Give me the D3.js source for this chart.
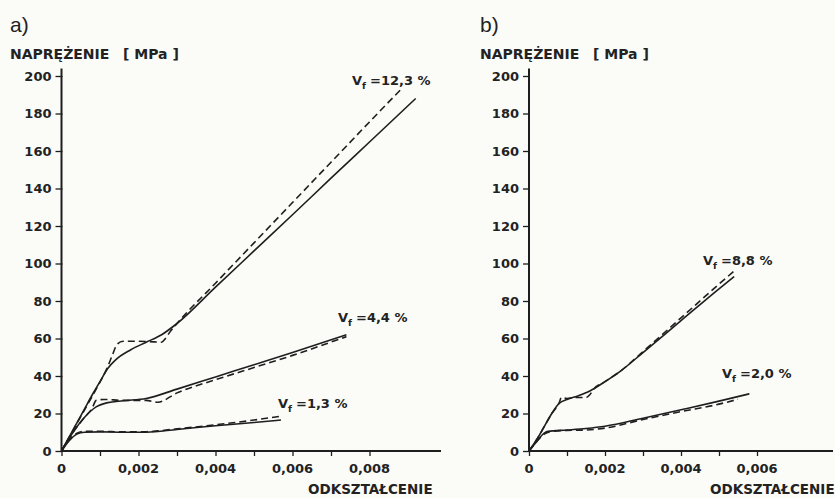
<!DOCTYPE html>
<html>
<head>
<meta charset="utf-8">
<script src="https://cdn.jsdelivr.net/npm/d3@7"></script>
<style>
html,body{margin:0;padding:0;background:#fbfbf8;}
svg{display:block;}
text{font-family:"DejaVu Sans",sans-serif;fill:#222;}
</style>
</head>
<body>
<svg id="chart" width="835" height="498"></svg>
<script>
// ---------- DATA ----------
const yTicks = [0, 20, 40, 60, 80, 100, 120, 140, 160, 180, 200];
const xTicksA = [0, 0.001, 0.002, 0.003, 0.004, 0.005, 0.006, 0.007, 0.008];
const xTicksB = [0, 0.001, 0.002, 0.003, 0.004, 0.005, 0.006];
const xLabelValsA = [0, 0.002, 0.004, 0.006, 0.008];
const xLabelValsB = [0, 0.002, 0.004, 0.006];

// Panel a) — Vf = 12,3 %
const a123SolidStrain = [0, 0.0002, 0.0004, 0.0006, 0.0008, 0.001, 0.0012, 0.0014, 0.0018, 0.0022, 0.0026, 0.003, 0.004, 0.005, 0.006, 0.007, 0.008, 0.0092];
const a123SolidStress = [0, 7.5, 15, 22.5, 30, 37, 44, 48.5, 54, 58, 62, 68, 87.4, 106.7, 126, 145.5, 164.8, 188];
const a123DashStrain = [0, 0.0003, 0.0006, 0.0009, 0.0012, 0.0013, 0.00145, 0.0016, 0.002, 0.0024, 0.0026, 0.0027, 0.0028, 0.003, 0.004, 0.005, 0.006, 0.007, 0.008, 0.0088];
const a123DashStress = [0, 11, 22, 33, 45, 50, 57, 58.5, 58.5, 58.2, 58, 60, 63, 68, 89.5, 111, 132.5, 154, 175.5, 192.5];
// Panel a) — Vf = 4,4 %
const a44SolidStrain = [0, 0.0003, 0.0006, 0.0009, 0.0012, 0.0016, 0.0022, 0.003, 0.004, 0.005, 0.006, 0.0074];
const a44SolidStress = [0, 10, 18, 23.5, 25.8, 26.8, 28, 33, 39.5, 46, 52.5, 62];
const a44DashStrain = [0, 0.0003, 0.0006, 0.0008, 0.0009, 0.0011, 0.0016, 0.0022, 0.0025, 0.003, 0.004, 0.005, 0.006, 0.0074];
const a44DashStress = [0, 10, 18, 23, 27, 27.5, 27, 27, 26, 31, 38, 44.5, 51, 61];
// Panel a) — Vf = 1,3 %
const a13SolidStrain = [0, 0.0002, 0.0004, 0.0006, 0.001, 0.0016, 0.0022, 0.003, 0.004, 0.005, 0.0057];
const a13SolidStress = [0, 5.5, 9, 10, 10.2, 10, 10, 11.5, 13.5, 15.2, 16.5];
const a13DashStrain = [0, 0.0002, 0.0004, 0.0006, 0.001, 0.0016, 0.0022, 0.003, 0.004, 0.005, 0.0057];
const a13DashStress = [0, 6, 9.5, 10.5, 10.5, 10.2, 10.3, 11.8, 14, 16.5, 18.6];

// Panel b) — Vf = 8,8 %
const b88SolidStrain = [0, 0.0002, 0.0004, 0.0006, 0.0008, 0.001, 0.0013, 0.0016, 0.002, 0.0024, 0.003, 0.004, 0.005, 0.0054];
const b88SolidStress = [0, 6, 13, 20, 25.5, 27.5, 29.5, 32, 37, 42.5, 52.5, 69.5, 86.5, 93];
const b88DashStrain = [0, 0.0002, 0.0004, 0.0006, 0.0008, 0.00085, 0.001, 0.0012, 0.0015, 0.0016, 0.0017, 0.002, 0.0024, 0.003, 0.004, 0.005, 0.0054];
const b88DashStress = [0, 6, 13, 20, 26, 28.5, 28, 28.5, 28.5, 30, 33, 37, 42.5, 53, 71, 89, 96];
// Panel b) — Vf = 2,0 %
const b20SolidStrain = [0, 0.0002, 0.0004, 0.0005, 0.001, 0.0015, 0.002, 0.003, 0.004, 0.005, 0.0058];
const b20SolidStress = [0, 5, 9.5, 10.5, 11.2, 12, 13.2, 17.5, 22, 26.6, 30.5];
const b20DashStrain = [0, 0.0002, 0.0004, 0.0006, 0.001, 0.0015, 0.002, 0.003, 0.004, 0.005, 0.0055];
const b20DashStress = [0, 5, 9, 10.5, 11, 11.2, 12.2, 16.8, 21, 25, 27.6];

// Labels
const panelLetters = ["a)", "b)"];
const yTitle = "NAPRĘŻENIE";
const yUnit = "[ MPa ]";
const xTitle = "ODKSZTAŁCENIE";
const vfLabelsA = ["=12,3 %", "=4,4 %", "=1,3 %"];
const vfLabelsB = ["=8,8 %", "=2,0 %"];

// ---------- DRAW ----------
const svg = d3.select("#chart");
const ink = "#1e1e1e";
const fmt = v => v === 0 ? "0" : d3.format(".3f")(v).replace(".", ",");
const zip = (xs, ys) => xs.map((x, i) => [x, ys[i]]);

function panel(cfg) {
  const x = d3.scaleLinear().domain([0, cfg.xMax]).range([cfg.x0, cfg.x1]);
  const y = d3.scaleLinear().domain([0, 204]).range([451, 68.5]);
  const g = svg.append("g");

  // y axis
  const yAxis = d3.axisLeft(y).tickValues(yTicks).tickSize(6).tickPadding(4).tickFormat(d3.format("d"));
  const gy = g.append("g").attr("transform", `translate(${cfg.x0},0)`).call(yAxis);
  gy.select(".domain").remove();
  gy.selectAll(".tick line").attr("stroke", ink).attr("stroke-width", 1.3).attr("x2", -6).attr("x1", 1);
  gy.selectAll(".tick text").style("font-size", "13px").style("font-weight", "bold")
    .style("font-family", '"DejaVu Sans",sans-serif').attr("fill", "#222");
  g.append("line").attr("x1", cfg.x0).attr("x2", cfg.x0).attr("y1", y(0)).attr("y2", y(204))
    .attr("stroke", ink).attr("stroke-width", 2);

  // x axis
  const xAxis = d3.axisBottom(x).tickValues(cfg.xTicks).tickSize(5).tickFormat("");
  const gx = g.append("g").attr("transform", `translate(0,${y(0)})`).call(xAxis);
  gx.select(".domain").remove();
  gx.selectAll(".tick line").attr("stroke", ink).attr("stroke-width", 1.3);
  g.append("line").attr("x1", cfg.x0).attr("x2", cfg.x1).attr("y1", y(0)).attr("y2", y(0))
    .attr("stroke", ink).attr("stroke-width", 2);
  g.selectAll("text.xl").data(cfg.xLabels).enter().append("text").attr("class", "xl")
    .attr("x", d => x(d)).attr("y", 473).attr("text-anchor", "middle")
    .style("font-size", "13px").style("font-weight", "bold").text(fmt);

  // titles
  g.append("text").attr("x", cfg.tx).attr("y", 32).style("font-family", '"Liberation Sans",Arial,sans-serif')
    .style("font-size", "21px").attr("fill", "#333").text(cfg.letter);
  g.append("text").attr("x", cfg.tx).attr("y", 59).style("font-size", "14px").style("font-weight", "bold").text(yTitle);
  g.append("text").attr("x", cfg.tx + 113).attr("y", 59).style("font-size", "14px").style("font-weight", "bold").text(yUnit);
  g.append("text").attr("x", cfg.xtx).attr("y", 494).style("font-size", "13.5px").style("font-weight", "bold").text(xTitle);

  // curves
  const line = d3.line().x(d => x(d[0])).y(d => y(d[1])).curve(d3.curveMonotoneX);
  cfg.curves.forEach(c => {
    g.append("path").attr("d", line(zip(c.s, c.v))).attr("fill", "none").attr("stroke", ink)
      .attr("stroke-width", 1.6).attr("stroke-dasharray", c.dash ? "7,4" : null);
  });

  // Vf labels
  cfg.vf.forEach(l => {
    const t = g.append("text").attr("x", l.x).attr("y", l.y).style("font-size", "13px").style("font-weight", "bold");
    t.append("tspan").text("V");
    t.append("tspan").attr("dy", 4).style("font-size", "9px").text("f");
    t.append("tspan").attr("dy", -4).attr("dx", 4).text(l.t);
  });
}

panel({
  x0: 61.5, x1: 441, xMax: (441 - 61.5) / 38500, xTicks: xTicksA, xLabels: xLabelValsA,
  letter: panelLetters[0], tx: 10, xtx: 308,
  curves: [
    {s: a123SolidStrain, v: a123SolidStress}, {s: a123DashStrain, v: a123DashStress, dash: true},
    {s: a44SolidStrain, v: a44SolidStress}, {s: a44DashStrain, v: a44DashStress, dash: true},
    {s: a13SolidStrain, v: a13SolidStress}, {s: a13DashStrain, v: a13DashStress, dash: true}
  ],
  vf: [
    {x: 352, y: 85, t: vfLabelsA[0]},
    {x: 338, y: 322, t: vfLabelsA[1]},
    {x: 278, y: 408, t: vfLabelsA[2]}
  ]
});

panel({
  x0: 529, x1: 833, xMax: (833 - 529) / 38000, xTicks: xTicksB, xLabels: xLabelValsB,
  letter: panelLetters[1], tx: 480, xtx: 710,
  curves: [
    {s: b88SolidStrain, v: b88SolidStress}, {s: b88DashStrain, v: b88DashStress, dash: true},
    {s: b20SolidStrain, v: b20SolidStress}, {s: b20DashStrain, v: b20DashStress, dash: true}
  ],
  vf: [
    {x: 703, y: 265, t: vfLabelsB[0]},
    {x: 722, y: 378, t: vfLabelsB[1]}
  ]
});
</script>
</body>
</html>
